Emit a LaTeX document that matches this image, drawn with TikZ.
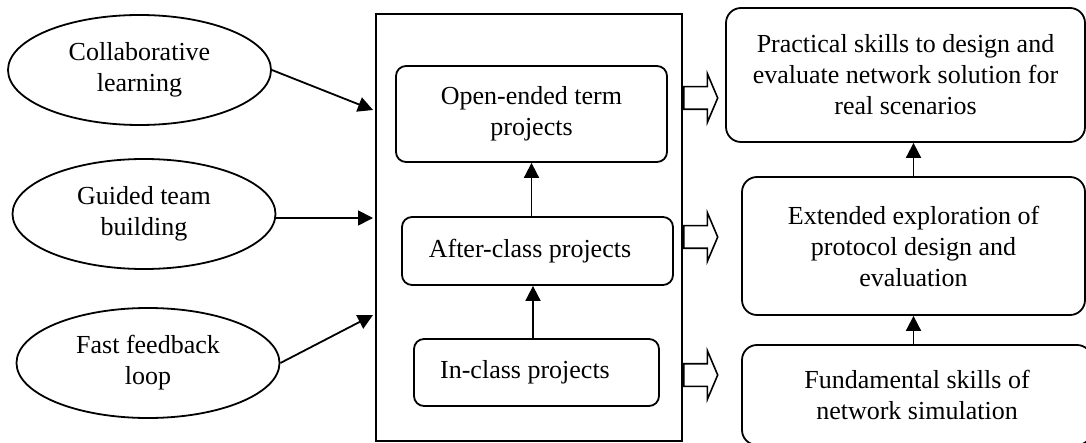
\documentclass[tikz,border=0pt]{standalone}
\usepackage{fontspec}
\setmainfont{Liberation Serif}
\usetikzlibrary{shapes.geometric,shapes.arrows,arrows.meta}

\begin{document}
\begin{tikzpicture}[x=0.5pt,y=-0.5pt,line width=0.9pt,
  font=\fontsize{13}{15.5}\selectfont,
  oval/.style={ellipse,draw,inner sep=0pt,minimum width=131.5pt,minimum height=55pt,align=center},
  rbox/.style={rectangle,draw,rounded corners=5pt,align=center},
  hollow/.style={single arrow,draw,anchor=tail,inner xsep=0pt,inner ysep=5.25pt,
    minimum height=17pt,single arrow head extend=6.5pt,single arrow tip angle=134,line width=0.8pt},
  >={Triangle[length=7.5pt,width=7.5pt]}]
\useasboundingbox (0,0) rectangle (1086,443);
\clip (0,0) rectangle (1086,443);
% approaches
\node [oval] (cl) at (139.5,70) {Collaborative\\learning};
\node [oval] (gt) at (144,214) {Guided team\\building};
\node [oval] (ff) at (148,363) {Fast feedback\\loop};
% projects
\node [draw,inner sep=0pt,minimum width=153pt,minimum height=213.5pt] (box) at (529,227.5) {};
\node [rbox,minimum width=135.5pt,minimum height=48pt] (op) at (531.5,114) {Open-ended term\\projects};
\node [rbox,minimum width=135.5pt,minimum height=34pt] (ac) at (537.5,251) {After-class projects\hspace{7.5pt}};
\node [rbox,minimum width=122.5pt,minimum height=33.5pt] (ic) at (536.5,372.5) {In-class projects\hspace{11.5pt}};
\coordinate (in1) at (373,110);
\coordinate (in2) at (373,218);
\coordinate (in3) at (373,315);
\draw [->] (cl.east) -- (in1);
\draw [->] (in2 -| gt.east) -- (in2);
\draw [->] (ff.east) -- (in3);
\draw [->] (ac.north -| op.south) -- (op.south);
\draw [->] ([xshift=-1.75pt]ic.north) -- ([xshift=-1.75pt]ic.north |- ac.south);
\node [hollow] (h1) at (box.east |- 0,98) {};
\node [hollow] (h2) at (box.east |- 0,237) {};
\node [hollow] (h3) at (box.east |- 0,375) {};
% outcomes
\node [rbox,rounded corners=7.5pt,minimum width=179.5pt,minimum height=67pt] (ps) at (905.5,75)
  {Practical skills to design and\\evaluate network solution for\\real scenarios};
\node [rbox,rounded corners=7.5pt,minimum width=171.5pt,minimum height=69pt] (ee) at (913.5,246)
  {Extended exploration of\\protocol design and\\evaluation};
\node [rbox,rounded corners=7.5pt,minimum width=175pt,minimum height=50pt] (fs) at (917,395)
  {Fundamental skills of\\network simulation};
\draw [->] (ee.north) -- (ee.north |- ps.south);
\draw [->] (fs.north -| ee.south) -- (ee.south);
\end{tikzpicture}
\end{document}
